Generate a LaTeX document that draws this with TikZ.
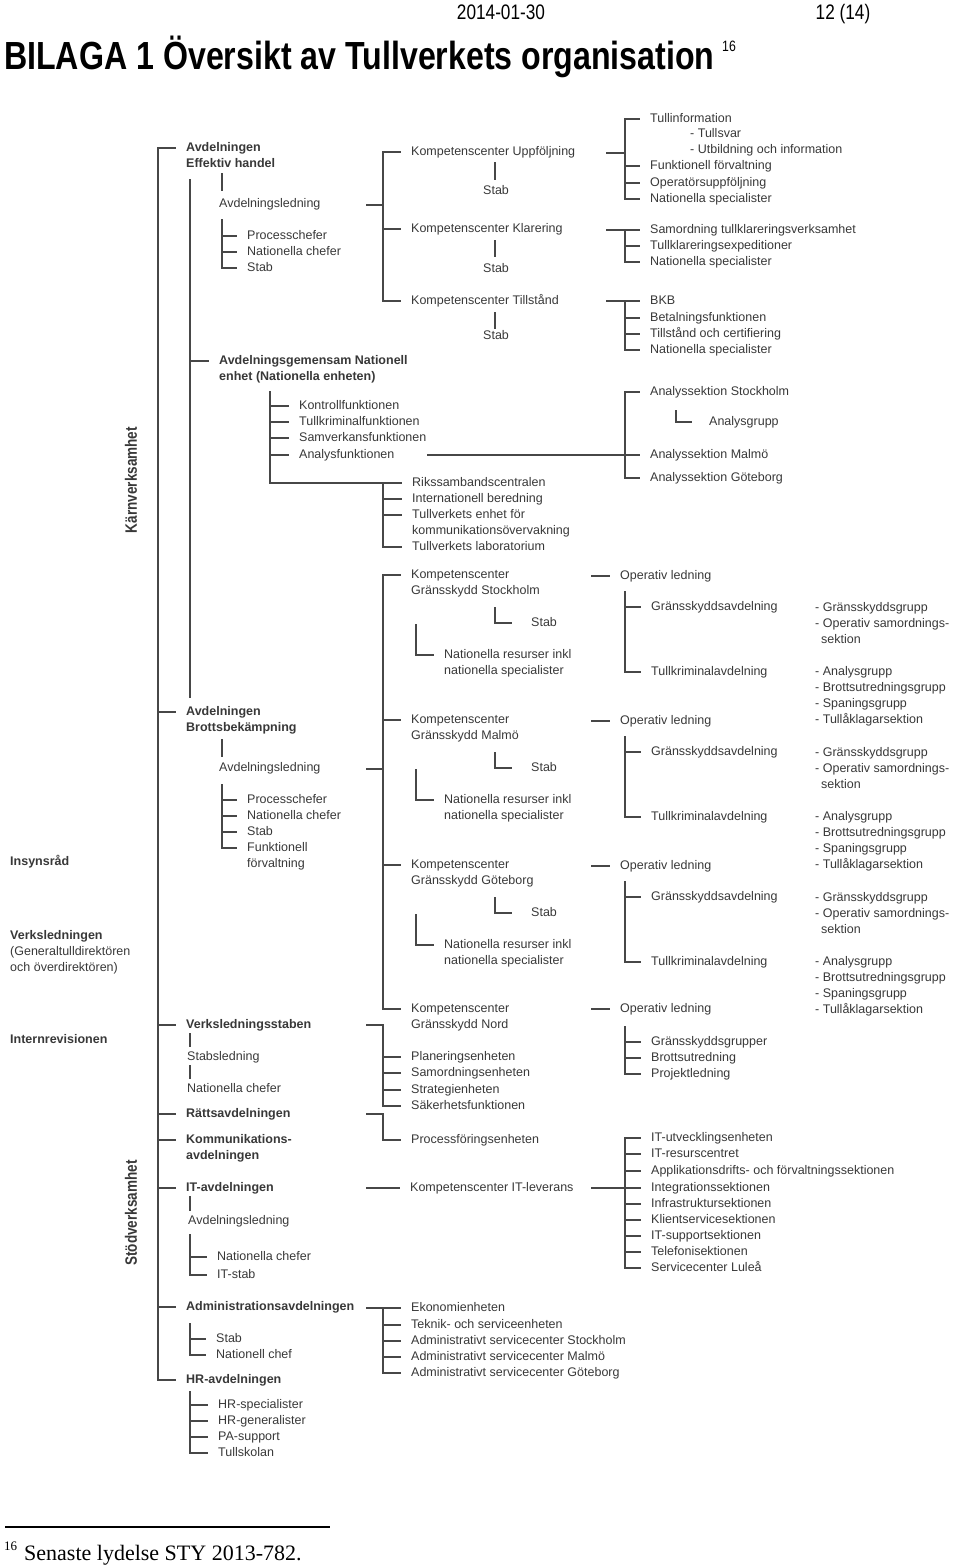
\documentclass[tikz,border=0pt]{standalone}
\usepackage{fontspec}
\setmainfont{Liberation Sans}
\newfontfamily\narrowsans[FakeStretch=0.82]{Liberation Sans}
\newfontfamily\serifface{Liberation Serif}

\definecolor{orgink}{HTML}{383838}
\definecolor{orgrule}{HTML}{474747}

\tikzset{
  orgtext/.style={anchor=west, inner sep=0pt, text=orgink,
    font=\fontsize{12.5}{15}\selectfont, text height=8.5pt, text depth=2.5pt},
  orgbold/.style={orgtext, font=\fontsize{12.5}{15}\selectfont\bfseries},
  orgline/.style={draw=orgrule, line width=1.4pt, line cap=rect},
}

\newcommand{\tickgap}{11pt}
% spine x, top of spine, last node (corner), nodes that get a tick
\newcommand{\orgbracket}[4]{
    \path (#1,0) coordinate (spx) (#2) coordinate (spt);
    \draw[orgline] (spt -| spx) -- (#3.west -| spx) -- ([xshift=-\tickgap]#3.west);
    \foreach \nd in {#4} {
        \draw[orgline] (\nd.west -| spx) -- ([xshift=-\tickgap]\nd.west);
    }
}
\newcommand{\orgstem}[3]{\draw[orgline] (#1,#2) -- (#1,#3);}

\begin{document}
\begin{tikzpicture}[x=1pt,y=-1pt]
\useasboundingbox (0,0) rectangle (960,1567);

% -------------------------
% Sidhuvud
% -------------------------
\node[anchor=base, inner sep=0pt, font=\narrowsans\fontsize{21}{24}\selectfont] (datum) at (501,19) {2014-01-30};
\node[anchor=base, inner sep=0pt, font=\narrowsans\fontsize{21}{24}\selectfont] (sida) at (843,19) {12 (14)};
\node[anchor=west, inner sep=0pt, font=\narrowsans\bfseries\fontsize{39.2}{42}\selectfont] (rubrik) at (4,57) {BILAGA 1 Översikt av Tullverkets organisation};
\node[anchor=west, inner sep=0pt, font=\narrowsans\fontsize{15}{17}\selectfont] (fotnot) at (722,46) {16};

% -------------------------
% Vänster spalt
% -------------------------
\node[orgbold] (insyn) at (10,862) {Insynsråd};
\node[orgbold] (vl1) at (10,936) {Verksledningen};
\node[orgtext] (vl2) at (10,952) {(Generaltulldirektören};
\node[orgtext] (vl3) at (10,968) {och överdirektören)};
\node[orgbold] (intrev) at (10,1040) {Internrevisionen};
\node[rotate=90, inner sep=0pt, text=orgink, font=\narrowsans\bfseries\fontsize{16.5}{18}\selectfont] (karn) at (131,480) {Kärnverksamhet};
\node[rotate=90, inner sep=0pt, text=orgink, font=\narrowsans\bfseries\fontsize{16.5}{18}\selectfont] (stod) at (131,1213) {Stödverksamhet};

% -------------------------
% Avdelningen Effektiv handel
% -------------------------
\node[orgbold] (eh1) at (186,148) {Avdelningen};
\node[orgbold] (eh2) at (186,164) {Effektiv handel};
\orgstem{222}{174}{190}
\node[orgtext] (ehled) at (219,204) {Avdelningsledning};
\node[orgtext] (ehp1) at (247,236) {Processchefer};
\node[orgtext] (ehp2) at (247,252) {Nationella chefer};
\node[orgtext] (ehp3) at (247,268) {Stab};
\orgbracket{222}{0,220}{ehp3}{ehp1,ehp2}

\node[orgtext] (up) at (411,152) {Kompetenscenter Uppföljning};
\node[orgtext] (upstab) at (483,191) {Stab};
\orgstem{495}{163}{179}
\node[orgtext] (kl) at (411,229) {Kompetenscenter Klarering};
\node[orgtext] (klstab) at (483,269) {Stab};
\orgstem{495}{241}{256}
\node[orgtext] (ti) at (411,301) {Kompetenscenter Tillstånd};
\node[orgtext] (tistab) at (483,336) {Stab};
\orgstem{495}{313}{328}
\draw[orgline] (367,205) -- (383,205);
\orgbracket{383}{up.west}{ti}{up,kl}

% Uppföljning
\node[orgtext] (tinf) at (650,119) {Tullinformation};
\node[orgtext] (tsv) at (690,134) {- Tullsvar};
\node[orgtext] (tutb) at (690,150) {- Utbildning och information};
\node[orgtext] (tfun) at (650,166) {Funktionell förvaltning};
\node[orgtext] (topr) at (650,183) {Operatörsuppföljning};
\node[orgtext] (tnat) at (650,199) {Nationella specialister};
\draw[orgline] (607,153) -- (625,153);
\orgbracket{625}{tinf.west}{tnat}{tinf,tfun,topr}

% Klarering
\node[orgtext] (ksam) at (650,230) {Samordning tullklareringsverksamhet};
\node[orgtext] (kexp) at (650,246) {Tullklareringsexpeditioner};
\node[orgtext] (knat) at (650,262) {Nationella specialister};
\draw[orgline] (607,230) -- (625,230);
\orgbracket{625}{ksam.west}{knat}{ksam,kexp}

% Tillstånd
\node[orgtext] (bkb) at (650,301) {BKB};
\node[orgtext] (bet) at (650,318) {Betalningsfunktionen};
\node[orgtext] (tillc) at (650,334) {Tillstånd och certifiering};
\node[orgtext] (tnat2) at (650,350) {Nationella specialister};
\draw[orgline] (607,301) -- (625,301);
\orgbracket{625}{bkb.west}{tnat2}{bkb,bet,tillc}

% -------------------------
% Nationella enheten
% -------------------------
\draw[orgline] (190,180) -- (190,697);
\node[orgbold] (ng1) at (219,361) {Avdelningsgemensam Nationell};
\node[orgbold] (ng2) at (219,377) {enhet (Nationella enheten)};
\draw[orgline] (190,361) -- ([xshift=-\tickgap]ng1.west);
\node[orgtext] (ngf1) at (299,406) {Kontrollfunktionen};
\node[orgtext] (ngf2) at (299,422) {Tullkriminalfunktionen};
\node[orgtext] (ngf3) at (299,438) {Samverkansfunktionen};
\node[orgtext] (ngf4) at (299,455) {Analysfunktionen};

\node[orgtext] (rk1) at (412,483) {Rikssambandscentralen};
\node[orgtext] (rk2) at (412,499) {Internationell beredning};
\node[orgtext] (rk3) at (412,515) {Tullverkets enhet för};
\node[orgtext] (rk4) at (412,531) {kommunikationsövervakning};
\node[orgtext] (rk5) at (412,547) {Tullverkets laboratorium};
\orgbracket{270}{0,392}{rk1}{ngf1,ngf2,ngf3,ngf4}
\orgbracket{383}{rk1.west}{rk5}{rk2,rk3}

% Analys
\node[orgtext] (ast) at (650,392) {Analyssektion Stockholm};
\node[orgtext] (agr) at (709,422) {Analysgrupp};
\node[orgtext] (amo) at (650,455) {Analyssektion Malmö};
\node[orgtext] (agb) at (650,478) {Analyssektion Göteborg};
\orgbracket{625}{ast.west}{agb}{ast,amo}
\draw[orgline] (676,411) |- ([xshift=-18pt]agr.west);
\draw[orgline] ([xshift=33pt]ngf4.east) -- (amo.west -| spx);

% -------------------------
% Avdelningen Brottsbekämpning
% -------------------------
\node[orgbold] (br1) at (186,712) {Avdelningen};
\node[orgbold] (br2) at (186,728) {Brottsbekämpning};
\orgstem{222}{740}{756}
\node[orgtext] (brled) at (219,768) {Avdelningsledning};
\node[orgtext] (brp1) at (247,800) {Processchefer};
\node[orgtext] (brp2) at (247,816) {Nationella chefer};
\node[orgtext] (brp3) at (247,832) {Stab};
\node[orgtext] (brp4) at (247,848) {Funktionell};
\node[orgtext] (brp5) at (247,864) {förvaltning};
\orgbracket{222}{0,785}{brp4}{brp1,brp2,brp3}
\draw[orgline] (367,769) -- (383,769);

\foreach \d/\city/\id in {0/Stockholm/s, 145/Malmö/m, 290/Göteborg/g} {
    \node[orgtext] (kc\id) at (411,575+\d) {Kompetenscenter};
    \node[orgtext] (kcb\id) at (411,591+\d) {Gränsskydd \city};
    \node[orgtext] (stab\id) at (531,623+\d) {Stab};
    \draw[orgline] (495,608+\d) |- ([xshift=-20pt]stab\id.west);
    \node[orgtext] (nr\id) at (444,655+\d) {Nationella resurser inkl};
    \node[orgtext] (nrb\id) at (444,671+\d) {nationella specialister};
    \draw[orgline] (416,625+\d) |- ([xshift=-\tickgap]nr\id.west);
    \node[orgtext] (op\id) at (620,576+\d) {Operativ ledning};
    \draw[orgline] (592,576+\d) -- ([xshift=-\tickgap]op\id.west);
    \node[orgtext] (ga\id) at (651,607+\d) {Gränsskyddsavdelning};
    \node[orgtext] (tk\id) at (651,672+\d) {Tullkriminalavdelning};
    \orgbracket{625}{0,592+\d}{tk\id}{ga\id}
    \node[orgtext] (lga\id) at (815,608+\d) {- Gränsskyddsgrupp};
    \node[orgtext] (lgb\id) at (815,624+\d) {- Operativ samordnings-};
    \node[orgtext] (lgc\id) at (821,640+\d) {sektion};
    \node[orgtext] (lta\id) at (815,672+\d) {- Analysgrupp};
    \node[orgtext] (ltb\id) at (815,688+\d) {- Brottsutredningsgrupp};
    \node[orgtext] (ltc\id) at (815,704+\d) {- Spaningsgrupp};
    \node[orgtext] (ltd\id) at (815,720+\d) {- Tullåklagarsektion};
}

% Nord
\node[orgtext] (kcn) at (411,1009) {Kompetenscenter};
\node[orgtext] (kcbn) at (411,1025) {Gränsskydd Nord};
\node[orgtext] (opn) at (620,1009) {Operativ ledning};
\draw[orgline] (592,1009) -- ([xshift=-\tickgap]opn.west);
\node[orgtext] (gsg) at (651,1042) {Gränsskyddsgrupper};
\node[orgtext] (bru) at (651,1058) {Brottsutredning};
\node[orgtext] (prl) at (651,1074) {Projektledning};
\orgbracket{625}{0,1027}{prl}{gsg,bru}
\orgbracket{383}{kcs.west}{kcn}{kcs,kcm,kcg}

% -------------------------
% Stödverksamhet
% -------------------------
\node[orgbold] (vs) at (186,1025) {Verksledningsstaben};
\orgstem{190}{1034}{1046}
\node[orgtext] (vsled) at (187,1057) {Stabsledning};
\orgstem{190}{1066}{1078}
\node[orgtext] (vsnc) at (187,1089) {Nationella chefer};
\node[orgtext] (plan) at (411,1057) {Planeringsenheten};
\node[orgtext] (samo) at (411,1073) {Samordningsenheten};
\node[orgtext] (strat) at (411,1090) {Strategienheten};
\node[orgtext] (sak) at (411,1106) {Säkerhetsfunktionen};
\draw[orgline] (367,1025) -- (383,1025);
\orgbracket{383}{0,1025}{sak}{plan,samo,strat}

\node[orgbold] (ratt) at (186,1114) {Rättsavdelningen};
\node[orgtext] (pfe) at (411,1140) {Processföringsenheten};
\draw[orgline] (367,1114) -- (383,1114);
\orgbracket{383}{0,1114}{pfe}{pfe}

\node[orgbold] (kom1) at (186,1140) {Kommunikations-};
\node[orgbold] (kom2) at (186,1156) {avdelningen};

\node[orgbold] (itavd) at (186,1188) {IT-avdelningen};
\orgstem{190}{1197}{1210}
\node[orgtext] (itled) at (188,1221) {Avdelningsledning};
\node[orgtext] (itn1) at (217,1257) {Nationella chefer};
\node[orgtext] (itn2) at (217,1275) {IT-stab};
\orgbracket{190}{0,1235}{itn2}{itn1}
\node[orgtext] (itlev) at (410,1188) {Kompetenscenter IT-leverans};
\draw[orgline] (367,1188) -- ([xshift=-\tickgap]itlev.west);
\foreach \y/\nm/\txt in {1138/itu/IT-utvecklingsenheten, 1154/itr/IT-resurscentret,
    1171/iap/Applikationsdrifts- och förvaltningssektionen, 1188/iin/Integrationssektionen,
    1204/iinf/Infrastruktursektionen, 1220/ikl/Klientservicesektionen,
    1236/isu/IT-supportsektionen, 1252/itel/Telefonisektionen, 1268/isc/Servicecenter Luleå} {
    \node[orgtext] (\nm) at (651,\y) {\txt};
}
\draw[orgline] (592,1188) -- (625,1188);
\orgbracket{625}{itu.west}{isc}{itu,itr,iap,iin,iinf,ikl,isu,itel}

\node[orgbold] (adm) at (186,1307) {Administrationsavdelningen};
\node[orgtext] (adm1) at (216,1339) {Stab};
\node[orgtext] (adm2) at (216,1355) {Nationell chef};
\orgbracket{190}{0,1324}{adm2}{adm1}
\node[orgtext] (eko) at (411,1308) {Ekonomienheten};
\node[orgtext] (tek) at (411,1325) {Teknik- och serviceenheten};
\node[orgtext] (ass) at (411,1341) {Administrativt servicecenter Stockholm};
\node[orgtext] (asm) at (411,1357) {Administrativt servicecenter Malmö};
\node[orgtext] (asg) at (411,1373) {Administrativt servicecenter Göteborg};
\draw[orgline] (367,1308) -- (383,1308);
\orgbracket{383}{eko.west}{asg}{eko,tek,ass,asm}

\node[orgbold] (hr) at (186,1380) {HR-avdelningen};
\node[orgtext] (hr1) at (218,1405) {HR-specialister};
\node[orgtext] (hr2) at (218,1421) {HR-generalister};
\node[orgtext] (hr3) at (218,1437) {PA-support};
\node[orgtext] (hr4) at (218,1453) {Tullskolan};
\orgbracket{190}{0,1392}{hr4}{hr1,hr2,hr3}

% huvudlinje
\orgbracket{158}{eh1.west}{hr}{eh1,br1,vs,ratt,kom1,itavd,adm}

% -------------------------
% Fotnot
% -------------------------
\draw[line width=1.3pt] (5,1527) -- (330,1527);
\node[anchor=base west, inner sep=0pt, font=\serifface\fontsize{13}{15}\selectfont] (fnnr) at (4,1550) {16};
\node[anchor=base west, inner sep=0pt, font=\serifface\fontsize{22}{26}\selectfont] (fntext) at (24,1560) {Senaste lydelse STY 2013-782.};

\end{tikzpicture}
\end{document}
